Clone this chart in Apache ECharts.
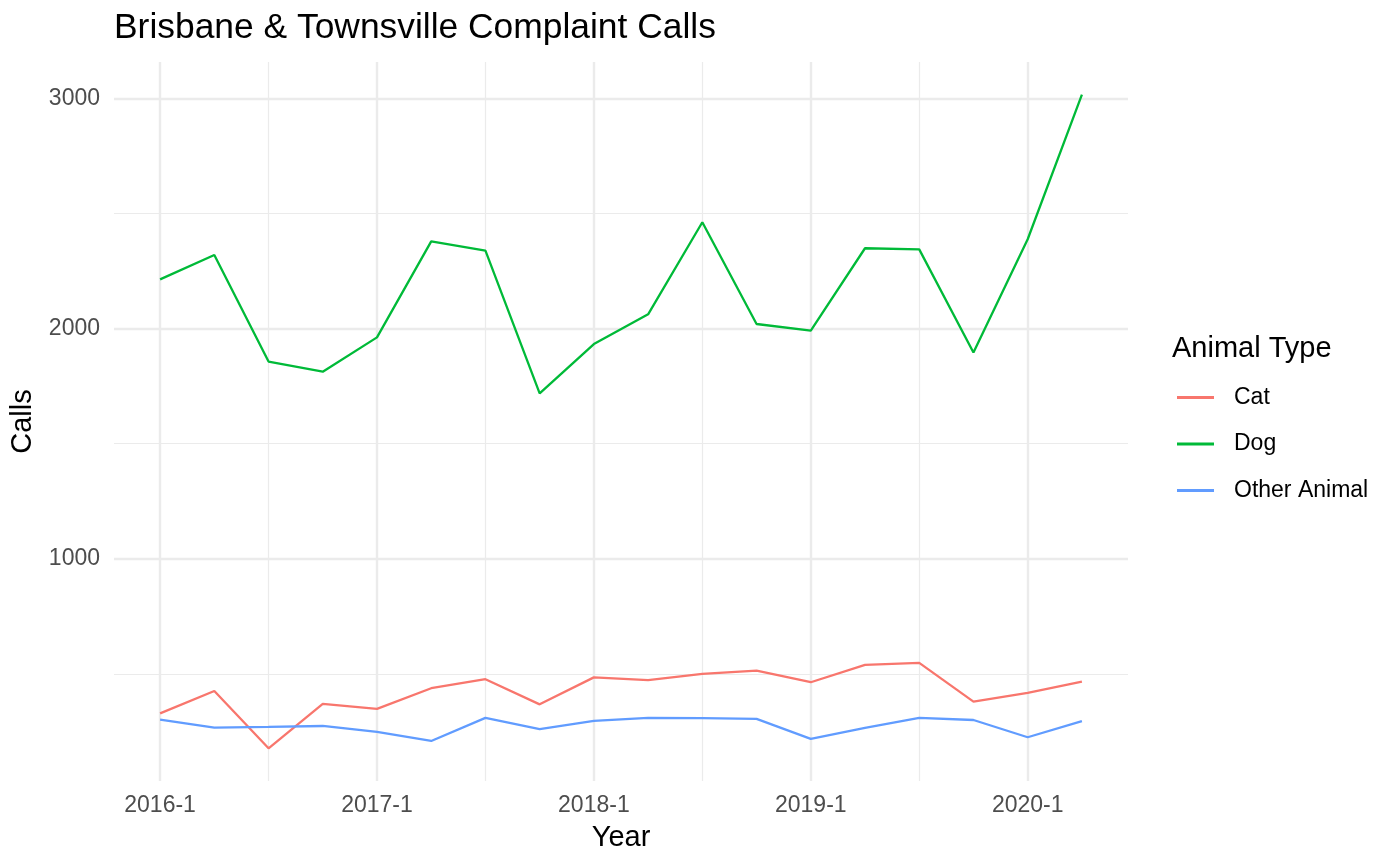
<!DOCTYPE html>
<html>
<head>
<meta charset="utf-8">
<title>Brisbane & Townsville Complaint Calls</title>
<script src="https://cdn.jsdelivr.net/npm/echarts@6/dist/echarts.min.js"></script>
<style>
  html, body { margin: 0; padding: 0; background: #fff; }
  #chart { width: 1400px; height: 865px; }
</style>
</head>
<body>
<div id="chart"></div>
<script>
/* quarterly complaint calls, ggplot-minimal look */
const quarters = [
  "2016-1", "2016-2", "2016-3", "2016-4",
  "2017-1", "2017-2", "2017-3", "2017-4",
  "2018-1", "2018-2", "2018-3", "2018-4",
  "2019-1", "2019-2", "2019-3", "2019-4",
  "2020-1", "2020-2"
];
const catCalls   = [329, 426, 177, 370, 348, 438, 477, 368, 485, 473, 500, 514, 464, 539, 548, 380, 418, 467];
const dogCalls   = [2214, 2320, 1857, 1813, 1962, 2379, 2339, 1719, 1933, 2062, 2462, 2020, 1991, 2349, 2344, 1896, 2388, 3016];
const otherCalls = [302, 267, 270, 274, 248, 209, 309, 260, 296, 309, 308, 305, 218, 266, 309, 300, 225, 295];

const xMajor = [0, 4, 8, 12, 16];
const xMinor = [2, 6, 10, 14];
const yMajor = [1000, 2000, 3000];
const yMinor = [500, 1500, 2500];

const FONT = "'Liberation Sans', Arial, Helvetica, sans-serif";
const GRID_C = "#EBEBEB";
const COLORS = { Cat: "#F8766D", Dog: "#00BA38", "Other Animal": "#619CFF" };

const X_MIN = -0.85, X_MAX = 17.85;
const Y_MIN = 35, Y_MAX = 3158;

function axisX(major) {
  const vals = major ? xMajor : xMinor;
  return {
    type: "value", min: X_MIN, max: X_MAX, position: "bottom",
    axisLine: { show: false },
    axisTick: { show: false, customValues: vals },
    axisLabel: major ? {
      customValues: vals, margin: 13,
      formatter: (v) => quarters[Math.round(v)] || "",
      color: "#4D4D4D", fontFamily: FONT, fontSize: 23,
    } : { show: false },
    splitLine: { show: true, lineStyle: { color: GRID_C, width: major ? 2.4 : 1.2 } },
    name: major ? "Year" : "",
    nameLocation: "middle", nameGap: 42,
    nameTextStyle: { color: "#000", fontFamily: FONT, fontSize: 29 },
  };
}

function axisY(major) {
  const vals = major ? yMajor : yMinor;
  return {
    type: "value", min: Y_MIN, max: Y_MAX, position: "left",
    axisLine: { show: false },
    axisTick: { show: false, customValues: vals },
    axisLabel: major ? {
      customValues: vals, margin: 14,
      formatter: (v) => String(v),
      color: "#4D4D4D", fontFamily: FONT, fontSize: 23,
    } : { show: false },
    splitLine: { show: true, lineStyle: { color: GRID_C, width: major ? 2.4 : 1.2 } },
    name: major ? "Calls" : "",
    nameLocation: "middle", nameGap: 67,
    nameTextStyle: { color: "#000", fontFamily: FONT, fontSize: 29 },
  };
}

function lineSeries(name, values) {
  return {
    name, type: "line", xAxisIndex: 0, yAxisIndex: 0,
    data: values.map((v, i) => [i, v]),
    symbol: "none",
    lineStyle: { color: COLORS[name], width: 2.3 },
    itemStyle: { color: COLORS[name] },
    z: 5,
  };
}

const chart = echarts.init(document.getElementById("chart"), null, { renderer: "canvas" });
chart.setOption({
  backgroundColor: "#fff",
  animation: false,
  title: [
    { text: "Brisbane & Townsville Complaint Calls", left: 114, top: 11, padding: 0,
      textStyle: { color: "#000", fontFamily: FONT, fontSize: 35.4, fontWeight: "normal" } },
    { text: "Animal Type", left: 1172, top: 334, padding: 0,
      textStyle: { color: "#000", fontFamily: FONT, fontSize: 29, fontWeight: "normal" } },
  ],
  legend: {
    orient: "vertical", left: 1177, top: 386, padding: 0,
    icon: "rect", itemWidth: 37, itemHeight: 3, itemGap: 23.5,
    textStyle: { color: "#000", fontFamily: FONT, fontSize: 23, padding: [0, 0, 0, 15] },
    data: ["Cat", "Dog", "Other Animal"],
  },
  grid: { left: 114, right: 272, top: 62, bottom: 84 },
  xAxis: [axisX(true), axisX(false)],
  yAxis: [axisY(true), axisY(false)],
  series: [
    lineSeries("Cat", catCalls),
    lineSeries("Dog", dogCalls),
    lineSeries("Other Animal", otherCalls),
  ],
});
</script>
</body>
</html>
